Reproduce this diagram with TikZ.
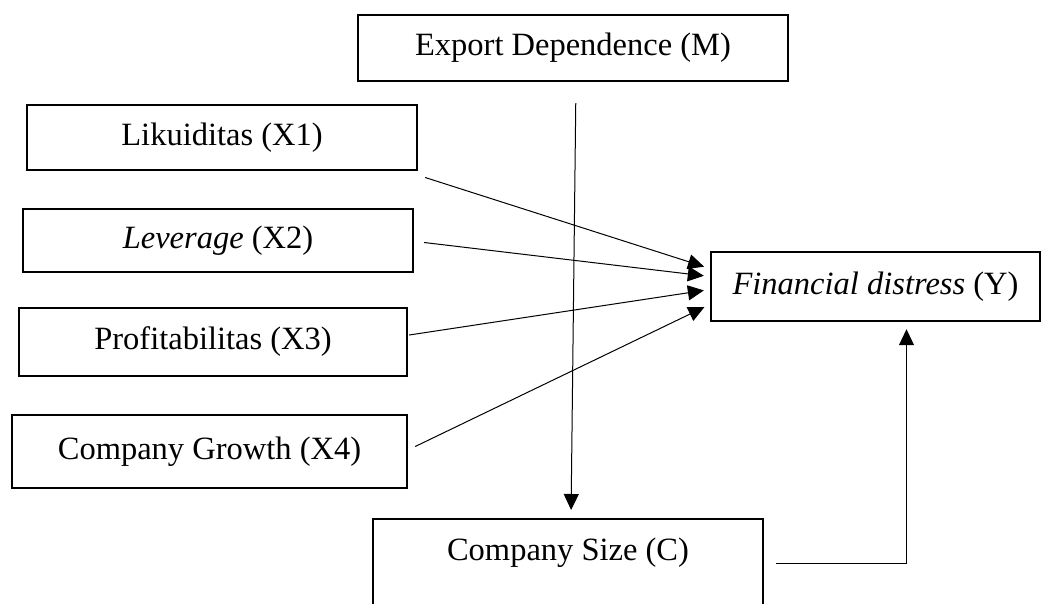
\documentclass[tikz,border=0pt]{standalone}
\usepackage{fontspec}
\setmainfont{Liberation Serif}
\usetikzlibrary{arrows.meta}
\begin{document}
\begin{tikzpicture}[x=1pt,y=-1pt]
	\tikzstyle{var} = [rectangle,draw=black,line width=2.4pt,inner sep=0pt,font=\fontsize{32.5}{39}\selectfont]
	\tikzstyle{link} = [-{Triangle[length=16pt,width=15pt]},line width=1pt]
	\useasboundingbox (0,0) rectangle (1049,603);
	\clip (0,0) rectangle (1049,603);
	% moderator
	\node[var,minimum width=430pt,minimum height=66pt] (ed) at (573,48) {Export Dependence (M)};
	% independent variables
	\node[var,minimum width=390pt,minimum height=65pt] (x1) at (222,137.5) {Likuiditas (X1)};
	\node[var,minimum width=390pt,minimum height=63pt] (x2) at (218,240.5) {\textit{Leverage} (X2)};
	\node[var,minimum width=388pt,minimum height=68pt] (x3) at (213,342) {Profitabilitas (X3)};
	\node[var,minimum width=395pt,minimum height=73pt] (x4) at (209.5,451.5) {Company Growth (X4)};
	% dependent variable
	\node[var,minimum width=329pt,minimum height=69pt] (fd) at (875.5,286.5) {\textit{Financial distress} (Y)};
	% control variable
	\node[var,minimum width=390pt,anchor=north,text height=41pt,text depth=80pt] (cs) at (568,518) {Company Size (C)};
	% connections X -> Y
	\foreach \i/\sx/\sy/\ey in {1/7/-40/18,2/10/-2/10,3/1/7/-3,4/7/5/-18}
		\draw[link,shorten >=6pt] ([xshift=\sx pt,yshift=\sy pt]x\i.east) -- ([yshift=\ey pt]fd.west);
	% M -> C
	\draw[link,shorten <=21pt,shorten >=8pt] ([xshift=3pt]ed.south) -- ([xshift=3pt]cs.north);
	% C -> Y
	\draw[link,shorten >=7pt] ([xshift=12pt,yshift=-45pt]cs.north east) -| ([xshift=31pt]fd.south);
\end{tikzpicture}
\end{document}
